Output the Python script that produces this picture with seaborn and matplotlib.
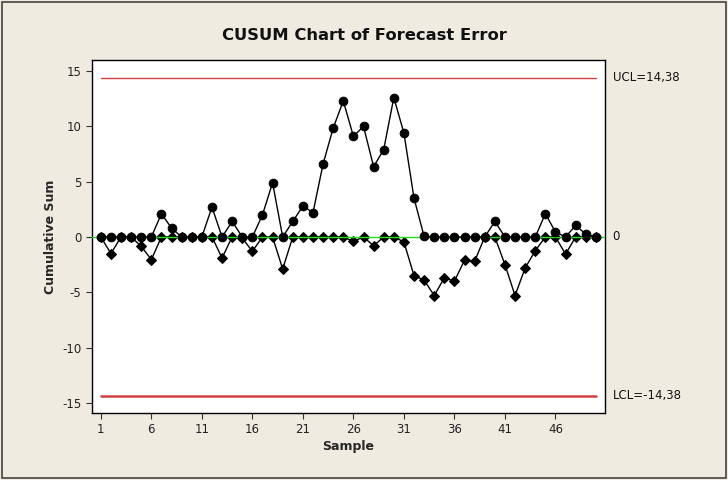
import matplotlib
matplotlib.use('Agg')
import matplotlib.pyplot as plt
import seaborn as sns
import pandas as pd
from matplotlib.patches import Rectangle

# Upper CUSUM (circles) and lower CUSUM (diamonds), samples 1..50
samples = list(range(1, 51))
upper = [0, 0, 0, 0, 0, 0, 2.1, 0.8, 0, 0,
         0, 2.7, 0, 1.4, 0, 0, 2.0, 4.9, 0, 1.4,
         2.8, 2.2, 6.6, 9.85, 12.3, 9.1, 10.0, 6.35, 7.9, 12.6,
         9.4, 3.5, 0.05, 0, 0, 0, 0, 0, 0, 1.4,
         0, 0, 0, 0, 2.1, 0.45, 0, 1.05, 0.25, 0]
lower = [0, -1.5, 0, 0, -0.85, -2.05, 0, 0, 0, 0,
         0, 0, -1.9, 0, -0.1, -1.3, 0, 0, -2.9, 0,
         0, 0, 0, 0, 0, -0.4, 0, -0.8, 0, 0,
         -0.45, -3.5, -3.9, -5.3, -3.7, -4.0, -2.1, -2.2, 0, 0,
         -2.5, -5.3, -2.8, -1.25, 0, 0, -1.55, 0, 0, 0]
ucl, center, lcl = 14.38, 0, -14.38
x_ticks = [1, 6, 11, 16, 21, 26, 31, 36, 41, 46]
y_ticks = [-15, -10, -5, 0, 5, 10, 15]

df = pd.DataFrame({'Sample': samples, 'Upper': upper, 'Lower': lower})

sns.set_style('white')
plt.rcParams['font.family'] = ['DejaVu Sans']
plt.rcParams['axes.unicode_minus'] = False

bg = '#efebe1'
fig = plt.figure(figsize=(7.28, 4.8), dpi=100, facecolor=bg)
ax = fig.add_axes([0.126, 0.140, 0.705, 0.735])
ax.set_facecolor('white')

# lower series first, then centre line, then upper series on top
sns.lineplot(data=df, x='Sample', y='Lower', ax=ax, color='black', linewidth=1.0,
             marker='D', markersize=5.5, markeredgecolor='black', zorder=2)
ax.axhline(center, color='#22dd22', linewidth=1.0, zorder=3)
sns.lineplot(data=df, x='Sample', y='Upper', ax=ax, color='black', linewidth=1.0,
             marker='o', markersize=6.2, markeredgecolor='black', zorder=4)

ax.plot([1, 50], [ucl, ucl], color='#d04040', linewidth=1.0, zorder=1)
ax.plot([1, 50], [lcl, lcl], color='#d04040', linewidth=1.8, zorder=1)

ax.set_xlim(0.1, 50.9)
ax.set_ylim(-15.9, 16.0)
ax.set_xticks(x_ticks)
ax.set_yticks(y_ticks)
ax.tick_params(axis='both', direction='out', length=4, width=0.8, color='#333333',
               labelsize=8.5, labelcolor='#222222', bottom=True, left=True)
for s in ax.spines.values():
    s.set_color('black')
    s.set_linewidth(1.0)

ax.set_xlabel('Sample', fontweight='bold', fontsize=9, labelpad=3)
ax.set_ylabel('Cumulative Sum', fontweight='bold', fontsize=9, labelpad=4)

# right side limit labels
for val, txt in [(ucl, 'UCL=14,38'), (center, '0'), (lcl, 'LCL=-14,38')]:
    ax.text(1.015, val, txt, transform=ax.get_yaxis_transform(), fontsize=8.5,
            va='center', ha='left', color='#111111')

fig.text(0.5, 0.925, 'CUSUM Chart of Forecast Error', ha='center', va='center',
         fontsize=11.8, fontweight='bold', color='#111111')

fig.patches.append(Rectangle((0.003, 0.004), 0.994, 0.992, transform=fig.transFigure,
                             fill=False, edgecolor='#444444', linewidth=1.2))

fig.savefig('out.png', dpi=100, facecolor=bg)
